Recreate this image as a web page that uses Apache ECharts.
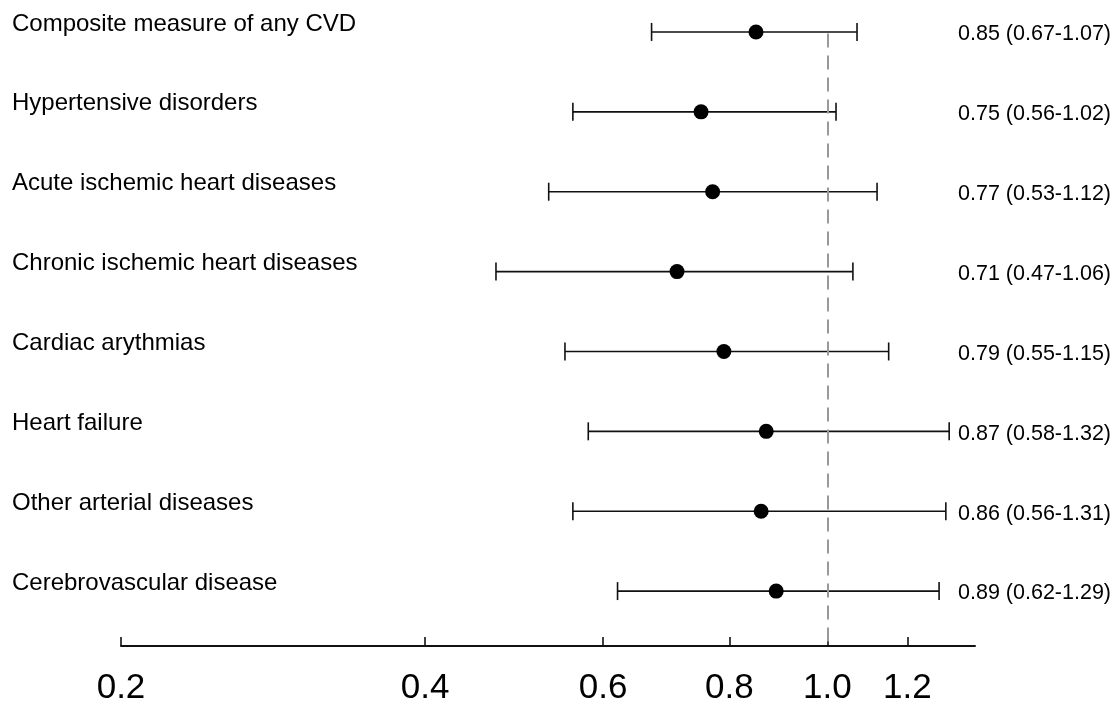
<!DOCTYPE html>
<html>
<head>
<meta charset="utf-8">
<script src="https://cdn.jsdelivr.net/npm/echarts@6/dist/echarts.min.js"></script>
<style>
  html, body { margin: 0; padding: 0; background: #fff; }
  #myChart { width: 1115px; height: 706px; }
</style>
</head>
<body>
<div id="myChart"></div>
<script>
// outcomes, top to bottom
var outcomes = [
  "Composite measure of any CVD",
  "Hypertensive disorders",
  "Acute ischemic heart diseases",
  "Chronic ischemic heart diseases",
  "Cardiac arythmias",
  "Heart failure",
  "Other arterial diseases",
  "Cerebrovascular disease"
];
var estimate = [0.85, 0.75, 0.77, 0.71, 0.79, 0.87, 0.86, 0.89];
var lower = [0.67, 0.56, 0.53, 0.47, 0.55, 0.58, 0.56, 0.62];
var upper = [1.07, 1.02, 1.12, 1.06, 1.15, 1.32, 1.31, 1.29];
var xTicks = [0.2, 0.4, 0.6, 0.8, 1.0, 1.2];

var ln = Math.log;
var rows = outcomes.map(function (n, i) { return i; });

var myChart = echarts.init(document.getElementById("myChart"));

// error bars: horizontal line + caps, drawn in log space
function renderBar(params, api) {
  var y = api.value(0);
  var p1 = api.coord([api.value(1), y]);
  var p2 = api.coord([api.value(2), y]);
  var cap = 9;
  var st = { stroke: "#111", lineWidth: 1.6 };
  return {
    type: "group",
    children: [
      { type: "line", shape: { x1: p1[0], y1: p1[1], x2: p2[0], y2: p2[1] }, style: st },
      { type: "line", shape: { x1: p1[0], y1: p1[1] - cap, x2: p1[0], y2: p1[1] + cap }, style: st },
      { type: "line", shape: { x1: p2[0], y1: p2[1] - cap, x2: p2[0], y2: p2[1] + cap }, style: st }
    ]
  };
}

var option = {
  animation: false,
  grid: { left: 121, right: 140, top: 0, bottom: 59 },
  xAxis: {
    type: "value",
    min: ln(0.2),
    max: ln(1.4),
    splitLine: { show: false },
    axisLine: { show: true, onZero: false, lineStyle: { color: "#111", width: 2 } },
    axisTick: {
      show: true,
      inside: true,
      length: 9,
      customValues: xTicks.map(ln),
      lineStyle: { color: "#111", width: 1.6 }
    },
    axisLabel: {
      customValues: xTicks.map(ln),
      formatter: function (v) { return Math.exp(v).toFixed(1); },
      fontFamily: "Liberation Sans",
      fontSize: 35,
      color: "#000",
      margin: 25
    }
  },
  yAxis: [
    {
      type: "value",
      inverse: true,
      min: -0.4,
      max: 7.6875,
      splitLine: { show: false },
      axisLine: { show: false },
      axisTick: { show: false },
      axisLabel: {
        // names sit a little above their row
        customValues: rows.map(function (i) { return i - 0.1; }),
        formatter: function (v) { return outcomes[Math.round(v)]; },
        align: "left",
        margin: 109,
        fontFamily: "Liberation Sans",
        fontSize: 24,
        color: "#000"
      }
    },
    {
      type: "value",
      position: "right",
      inverse: true,
      min: -0.4,
      max: 7.6875,
      splitLine: { show: false },
      axisLine: { show: false },
      axisTick: { show: false },
      axisLabel: {
        customValues: rows.map(function (i) { return i + 0.03; }),
        formatter: function (v) {
          var i = Math.round(v);
          return estimate[i].toFixed(2) + " (" + lower[i].toFixed(2) + "-" + upper[i].toFixed(2) + ")";
        },
        align: "right",
        margin: 136,
        fontFamily: "Liberation Sans",
        fontSize: 21.5,
        color: "#000"
      }
    }
  ],
  series: [
    {
      type: "custom",
      renderItem: renderBar,
      encode: { x: [1, 2], y: 0 },
      data: rows.map(function (i) { return [i, ln(lower[i]), ln(upper[i])]; }),
      z: 2,
      markLine: {
        silent: true,
        symbol: "none",
        label: { show: false },
        lineStyle: { color: "#999", width: 2, type: [14, 8] },
        data: [[{ coord: [0, 0.02] }, { coord: [0, 7.6875] }]]
      }
    },
    {
      type: "scatter",
      symbol: "circle",
      symbolSize: 15,
      itemStyle: { color: "#000", opacity: 1 },
      data: rows.map(function (i) { return [ln(estimate[i]), i]; }),
      z: 3
    }
  ]
};
myChart.setOption(option);
</script>
</body>
</html>
